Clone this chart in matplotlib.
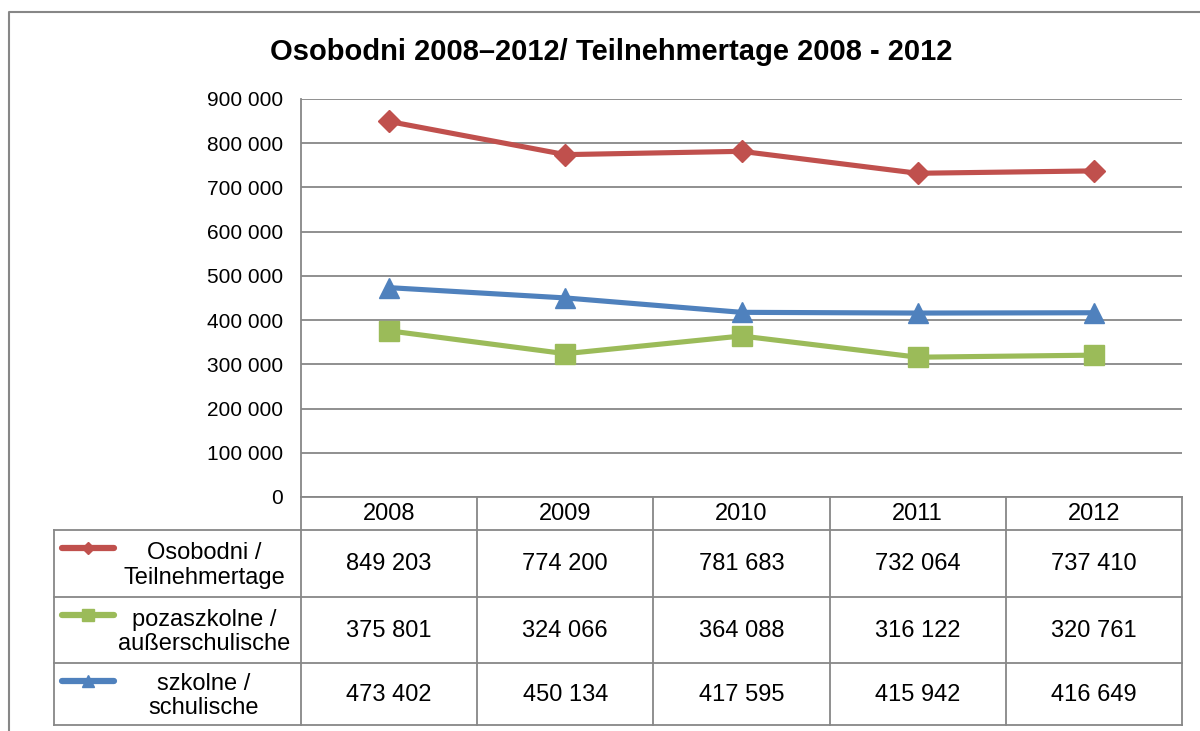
"""
    Osobodni / Teilnehmertage 2008-2012 line chart with a data table below.
"""
import matplotlib.pyplot as plt
from matplotlib.lines import Line2D
from matplotlib.transforms import blended_transform_factory

plt.rcParams["font.family"] = ["Liberation Sans", "DejaVu Sans"]

years = ["2008", "2009", "2010", "2011", "2012"]
series_names = ["Osobodni /\nTeilnehmertage",
                "pozaszkolne /\naußerschulische",
                "szkolne /\nschulische"]
osobodni = [849203, 774200, 781683, 732064, 737410]
pozaszkolne = [375801, 324066, 364088, 316122, 320761]
szkolne = [473402, 450134, 417595, 415942, 416649]
yticks = list(range(0, 900001, 100000))

series = [osobodni, pozaszkolne, szkolne]
colors = ["#C0504D", "#9BBB59", "#4F81BD"]
markers = ["D", "s", "^"]
msizes = [11, 14, 14]
key_ms = [6.5, 8.5, 9]
grid_c = "#878787"

W, H = 1200, 731
fig = plt.figure(figsize=(W / 100, H / 100), dpi=100)


def fx(x):
    return x / W


def fy(y):
    return 1 - y / H


# plot area in pixels
left, right, top, bottom = 301, 1182, 99, 497
ax = fig.add_axes([fx(left), fy(bottom), fx(right - left), (bottom - top) / H])

x = list(range(len(years)))
for vals, c, m, ms in zip(series, colors, markers, msizes):
    ax.plot(x, vals, color=c, lw=3.7, marker=m, ms=ms, zorder=3,
            solid_capstyle="round")

ax.set_xlim(-0.5, len(years) - 0.5)
ax.set_ylim(0, 900000)
ax.set_yticks(yticks)
ax.set_yticklabels([f"{v:,}".replace(",", " ") for v in yticks], fontsize=15)
ax.set_xticks([])
ax.tick_params(axis="y", length=0, pad=13)
ax.grid(axis="y", color=grid_c, lw=1.3)
ax.set_axisbelow(True)
for s in ["top", "right", "bottom"]:
    ax.spines[s].set_visible(False)
ax.spines["left"].set_color(grid_c)
ax.spines["left"].set_linewidth(1.3)

# outer chart border
fig.add_artist(Line2D([fx(9), fx(9), 1], [0, fy(12), fy(12)],
                      color=grid_c, lw=1.5))

fig.text(fx(611), fy(52), "Osobodni 2008\u20132012/ Teilnehmertage 2008 - 2012",
         ha="center", va="center", fontsize=21, fontweight="bold")

# data table
tr = blended_transform_factory(ax.transData, fig.transFigure)
row_edges = [497, 530, 597, 663, 725]
tab_left = 54


def hline(y, x0, x1):
    fig.add_artist(Line2D([fx(x0), fx(x1)], [fy(y), fy(y)], color=grid_c, lw=1.3))


def vline(xp, y0, y1):
    fig.add_artist(Line2D([fx(xp), fx(xp)], [fy(y0), fy(y1)], color=grid_c, lw=1.3))


hline(row_edges[0], left, right)
for y in row_edges[1:]:
    hline(y, tab_left, right)
vline(tab_left, row_edges[1], row_edges[-1])
vline(left, row_edges[0], row_edges[-1])
col_w = (right - left) / len(years)
for i in range(1, len(years) + 1):
    vline(left + i * col_w, row_edges[0], row_edges[-1])

for i, yr in enumerate(years):
    fig.text(i, fy((row_edges[0] + row_edges[1]) / 2 + 1), yr, transform=tr,
             ha="center", va="center", fontsize=17)

for r, (name, vals, c, m, kms) in enumerate(zip(series_names, series, colors,
                                                 markers, key_ms)):
    y0, y1 = row_edges[r + 1], row_edges[r + 2]
    yc = fy((y0 + y1) / 2 + 1)
    for i, v in enumerate(vals):
        fig.text(i, yc, f"{v:,}".replace(",", " "), transform=tr,
                 ha="center", va="center", fontsize=17)
    # legend key
    ky = fy(y0 + 18)
    fig.add_artist(Line2D([fx(62), fx(114)], [ky, ky], color=c, lw=4.5,
                          solid_capstyle="round"))
    fig.add_artist(Line2D([fx(88)], [ky], color=c, marker=m, ms=kms))
    fig.text(fx(204), fy((y0 + y1) / 2 + 2), name, ha="center", va="center",
             fontsize=17, linespacing=1.15)

fig.savefig("out.png", dpi=100)
